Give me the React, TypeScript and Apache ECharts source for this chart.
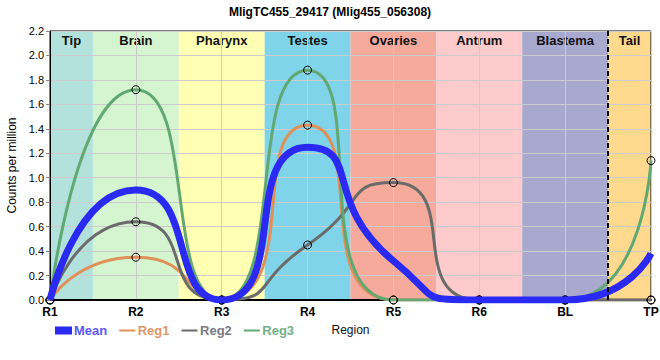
import React, { useEffect, useRef } from "react";
import * as echarts from "echarts";

const categories = ["R1", "R2", "R3", "R4", "R5", "R6", "BL", "TP"];
const meanValues = [0, 0.9, 0, 1.25, 0.32, 0, 0, 0.38];
const reg1Values = [0, 0.35, 0, 1.43, 0, 0, 0, 0];
const reg2Values = [0, 0.64, 0, 0.45, 0.96, 0, 0, 0];
const reg3Values = [0, 1.72, 0, 1.88, 0, 0, 0, 1.14];
const bandNames = ["Tip", "Brain", "Pharynx", "Testes", "Ovaries", "Antrum", "Blastema", "Tail"];
const bandStarts = [0, 0.5, 1.5, 2.5, 3.5, 4.5, 5.5, 6.5];
const bandEnds = [0.5, 1.5, 2.5, 3.5, 4.5, 5.5, 6.5, 7];
const bandColors = ["#b3e2dc", "#d5f5d0", "#ffffb3", "#80d4ea", "#f5aa9c", "#fdcbcb", "#a9a8ce", "#fed98e"];
const dividerAt = 6.5;

const toPairs = (arr: number[]) => arr.map((v, i) => [i, v]);

export default function App() {
  const ref = useRef<HTMLDivElement>(null);
  useEffect(() => {
    if (!ref.current) return;
    const chart = echarts.init(ref.current, null, { renderer: "svg" });
    const regStyle = (color: string) => ({
      type: "line",
      smooth: 0.7,
      symbol: "circle",
      symbolSize: 8,
      showAllSymbol: true,
      itemStyle: { color: "rgba(0,0,0,0)", borderColor: "#000", borderWidth: 1 },
      lineStyle: { color, width: 3 },
      z: 3,
    });
    const thinIcon = "path://M0,0M16,8M0,3H16V5H0Z";
    const legendItem = (name: string, icon: string, color: string, textColor: string) => ({
      name,
      icon,
      itemStyle: { color, borderColor: color, borderWidth: 0 },
      lineStyle: { color, width: 0 },
      textStyle: { color: textColor },
    });
    chart.setOption({
      animation: false,
      textStyle: { fontFamily: "Liberation Sans, Arial, sans-serif" },
      title: {
        text: "MligTC455_29417 (Mlig455_056308)",
        left: "center",
        top: 1,
        textStyle: { fontSize: 12, fontWeight: "bold", color: "#000" },
      },
      legend: {
        left: 50,
        top: 319,
        itemWidth: 17,
        itemHeight: 8,
        itemGap: 12,
        textStyle: { fontSize: 13, fontWeight: "bold", padding: [0, 0, 0, -3] },
        data: [
          legendItem("Mean", "rect", "#2a2af2", "#5a5af5"),
          legendItem("Reg1", thinIcon, "#e0915a", "#e3956a"),
          legendItem("Reg2", thinIcon, "#6b6b6b", "#7a7a82"),
          legendItem("Reg3", thinIcon, "#62a872", "#72b086"),
        ],
      },
      grid: {
        left: 50,
        right: 9,
        top: 31,
        bottom: 60,
        show: true,
        borderColor: "#000",
        borderWidth: 1,
        backgroundColor: "rgba(0,0,0,0)",
        outerBoundsMode: "none",
        containLabel: false,
      },
      xAxis: {
        type: "value",
        min: 0,
        max: 7,
        interval: 1,
        name: "Region",
        nameLocation: "middle",
        nameGap: 24,
        nameTextStyle: { fontSize: 12, color: "#111" },
        axisLine: { lineStyle: { color: "#000", width: 2 } },
        axisTick: { show: false },
        axisLabel: {
          formatter: (v: number) => categories[v] ?? "",
          fontSize: 12,
          fontWeight: "bold",
          color: "#000",
          margin: 6,
        },
        splitLine: { show: true, lineStyle: { color: "#cccccc", width: 1 } },
      },
      yAxis: {
        type: "value",
        min: 0,
        max: 2.2,
        interval: 0.2,
        name: "Counts per million",
        nameLocation: "middle",
        nameGap: 22,
        nameTextStyle: { fontSize: 12, color: "#000" },
        axisLine: { show: true, lineStyle: { color: "#000", width: 1 } },
        axisTick: { show: true, length: 4, lineStyle: { color: "#888" } },
        axisLabel: { formatter: (v: number) => v.toFixed(1), fontSize: 11, color: "#000", margin: 6 },
        splitLine: { show: true, lineStyle: { color: "#cccccc", width: 1 } },
      },
      series: [
        {
          name: "Mean",
          type: "line",
          smooth: 0.7,
          showSymbol: false,
          data: toPairs(meanValues),
          lineStyle: { color: "#2a2af2", width: 7 },
          itemStyle: { color: "#2a2af2" },
          z: 4,
          markArea: {
            z: -1,
            silent: true,
            label: {
              show: true,
              position: "insideTop",
              distance: 3,
              fontSize: 13,
              fontWeight: "bold",
              color: "#111",
            },
            data: bandNames.map((n, i) => [
              { name: n, xAxis: bandStarts[i], itemStyle: { color: bandColors[i] } },
              { xAxis: bandEnds[i] },
            ]),
          },
          markLine: {
            silent: true,
            symbol: "none",
            z: 6,
            label: { show: false },
            lineStyle: { color: "#000", width: 2, type: [5, 3] },
            data: [{ xAxis: dividerAt }],
          },
        },
        { name: "Reg1", data: toPairs(reg1Values), ...regStyle("#e0915a") },
        { name: "Reg2", data: toPairs(reg2Values), ...regStyle("#6b6b6b") },
        { name: "Reg3", data: toPairs(reg3Values), ...regStyle("#62a872") },
      ],
    });
    return () => chart.dispose();
  }, []);
  return <div ref={ref} style={{ width: 660, height: 360, position: "absolute", left: 0, top: 0 }} />;
}
